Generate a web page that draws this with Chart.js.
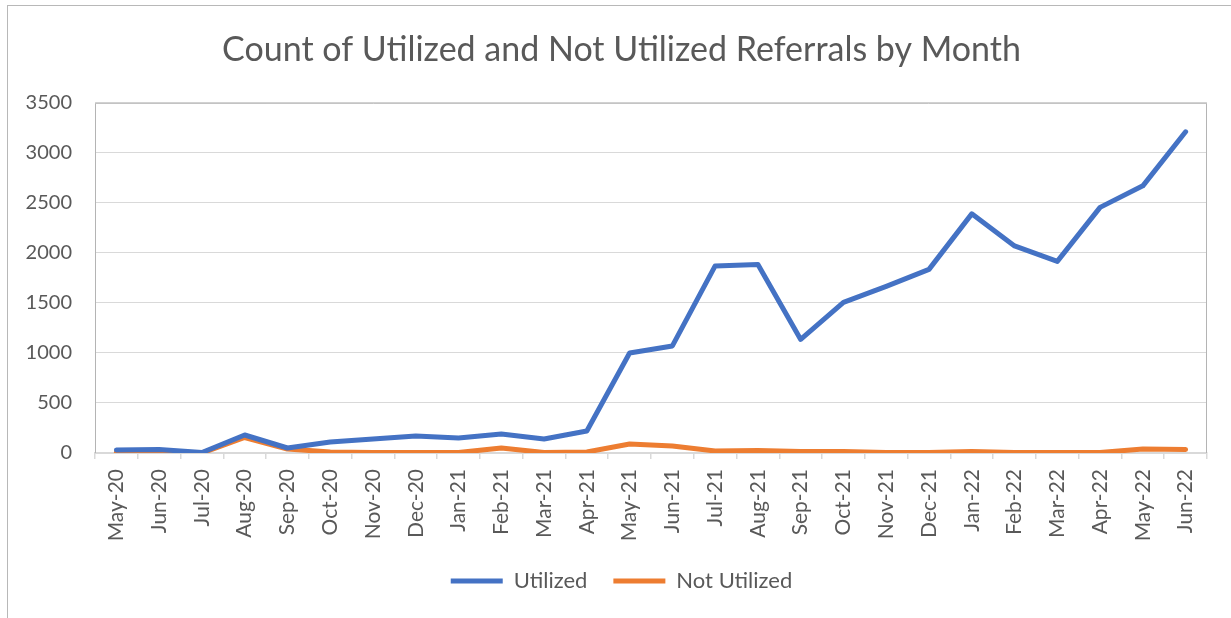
<!DOCTYPE html>
<html>
<head>
<meta charset="utf-8">
<script src="https://cdn.jsdelivr.net/npm/chart.js@4/dist/chart.umd.min.js"></script>
<style>
  html, body { margin: 0; padding: 0; background: #fff; overflow: hidden; }
  #frame {
    position: absolute; left: 7px; top: 5px; width: 1240px; height: 640px;
    border-left: 1px solid #b8b8b8; border-top: 1px solid #b8b8b8;
  }
  #wrap { position: absolute; left: 0; top: 0; width: 1227px; height: 612px; }
</style>
</head>
<body>
<div id="frame"><div id="wrap"><canvas id="refChart"></canvas></div></div>
<script>
  const months = [
    "May-20", "Jun-20", "Jul-20", "Aug-20", "Sep-20", "Oct-20", "Nov-20", "Dec-20",
    "Jan-21", "Feb-21", "Mar-21", "Apr-21", "May-21", "Jun-21", "Jul-21", "Aug-21",
    "Sep-21", "Oct-21", "Nov-21", "Dec-21", "Jan-22", "Feb-22", "Mar-22", "Apr-22",
    "May-22", "Jun-22"
  ];
  const utilized = [
    30, 35, 5, 180, 50, 110, 140, 170,
    150, 190, 140, 220, 1000, 1070, 1870, 1885,
    1135, 1505, 1665, 1835, 2390, 2070, 1915, 2455,
    2670, 3210
  ];
  const notUtilized = [
    5, 5, 0, 155, 40, 10, 5, 5,
    5, 50, 5, 10, 90, 70, 20, 25,
    15, 15, 5, 5, 15, 5, 5, 5,
    40, 35
  ];
  const yTicks = [0, 500, 1000, 1500, 2000, 2500, 3000, 3500];

  const FONT = "Lato, 'Open Sans', sans-serif";
  const TEXT = "#595959";

  // frame on top, left and right of the plot area (no bottom, that's the axis)
  const plotFrame = {
    id: "plotFrame",
    beforeDatasetsDraw(chart) {
      const { ctx, chartArea: a } = chart;
      ctx.save();
      ctx.strokeStyle = "#b4b4b4";
      ctx.lineWidth = 1;
      ctx.beginPath();
      ctx.moveTo(a.left + 0.5, a.bottom);
      ctx.lineTo(a.left + 0.5, a.top + 0.5);
      ctx.lineTo(a.right - 0.5, a.top + 0.5);
      ctx.lineTo(a.right - 0.5, a.bottom);
      ctx.stroke();
      ctx.restore();
    }
  };

  new Chart(document.getElementById("refChart"), {
    type: "line",
    data: {
      labels: months,
      datasets: [
        { label: "Utilized", data: utilized, borderColor: "#4472C4", backgroundColor: "#4472C4" },
        { label: "Not Utilized", data: notUtilized, borderColor: "#ED7D31", backgroundColor: "#ED7D31" },
      ],
    },
    options: {
      responsive: true,
      maintainAspectRatio: false,
      animation: false,
      layout: { padding: { left: 14, right: 14, top: 0, bottom: 16 } },
      elements: {
        line: { borderWidth: 5, tension: 0, borderCapStyle: "round", borderJoinStyle: "round" },
        point: { radius: 0, hoverRadius: 0 },
      },
      plugins: {
        title: {
          display: true,
          text: "Count of Utilized and Not Utilized Referrals by Month",
          color: TEXT,
          font: { family: FONT, size: 34, weight: "normal" },
          padding: { top: 24, bottom: 32 },
        },
        legend: {
          display: true,
          position: "bottom",
          labels: {
            color: TEXT,
            font: { family: FONT, size: 22 },
            boxWidth: 52,
            boxHeight: 5,
            padding: 26,
            generateLabels(chart) {
              return chart.data.datasets.map((ds, i) => ({
                text: ds.label, fillStyle: ds.borderColor, strokeStyle: ds.borderColor,
                lineWidth: 0, datasetIndex: i, fontColor: TEXT,
              }));
            },
          },
        },
        tooltip: { enabled: false },
      },
      scales: {
        x: {
          offset: true,
          afterFit(scale) { scale.height = 91; },
          grid: { drawOnChartArea: false, offset: true, tickLength: 6, color: "#d9d9d9", lineWidth: 1.5 },
          border: { display: true, color: "#d9d9d9", width: 2 },
          ticks: {
            color: TEXT, font: { family: FONT, size: 21 },
            minRotation: 90, maxRotation: 90, autoSkip: false, padding: 10,
          },
        },
        y: {
          min: 0, max: 3500,
          afterFit(scale) { scale.width = 73; },
          afterBuildTicks(scale) { scale.ticks = yTicks.map(v => ({ value: v })); },
          grid: { color: "#d9d9d9", lineWidth: 1, drawTicks: false },
          border: { display: false },
          ticks: {
            color: TEXT, font: { family: FONT, size: 20 }, padding: 23,
            callback: v => String(v),
          },
        },
        // empty right-hand spacer so the plot ends short of the frame edge
        gap: {
          type: "linear", position: "right",
          afterFit(scale) { scale.width = 14; },
          grid: { display: false }, border: { display: false }, ticks: { display: false },
        },
      },
    },
    plugins: [plotFrame],
  });
</script>
</body>
</html>
